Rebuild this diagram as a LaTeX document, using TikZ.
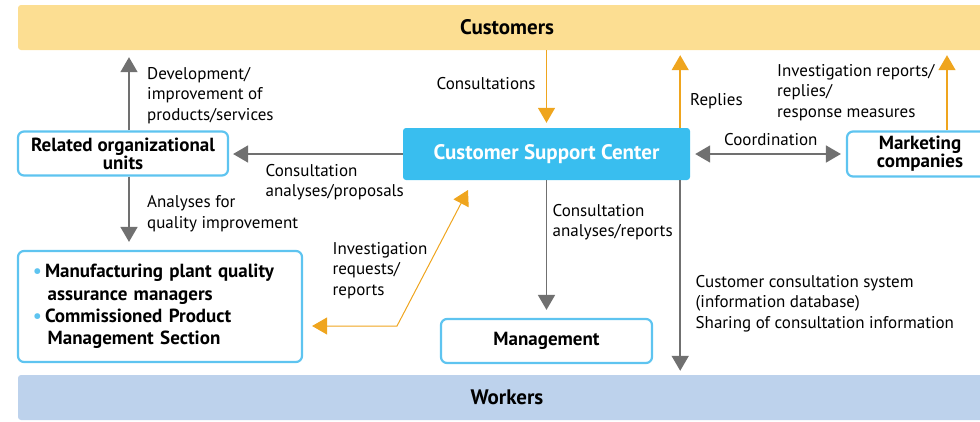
\documentclass[tikz,border=0pt]{standalone}
\usepackage{fontspec}
\setmainfont{PT Sans}
\usetikzlibrary{arrows.meta,positioning}
\definecolor{custband}{RGB}{252,222,146}
\definecolor{workband}{RGB}{189,210,236}
\definecolor{boxblue}{RGB}{94,196,240}
\definecolor{centerblue}{RGB}{57,190,239}
\definecolor{replyorange}{RGB}{239,165,30}
\definecolor{flowgray}{RGB}{112,112,112}
\tikzset{
  band/.style      = {rounded corners=3pt, inner sep=0pt, minimum width=978pt,
                      minimum height=45pt, font=\bfseries\fontsize{21}{22}\selectfont},
  unitbox/.style   = {draw=boxblue, line width=2.2pt, rounded corners=6pt, fill=white,
                      inner sep=0pt, align=center, font=\bfseries\fontsize{19}{18}\selectfont},
  centerbox/.style = {fill=centerblue, rounded corners=3pt, inner sep=0pt, text=white,
                      font=\bfseries\fontsize{21}{22}\selectfont},
  grayflow/.style  = {draw=flowgray, line width=1.7pt, -{Triangle[length=15pt,width=17pt]}},
  grayboth/.style  = {draw=flowgray, line width=1.7pt,
                      {Triangle[length=15pt,width=17pt]}-{Triangle[length=15pt,width=17pt]}},
  orangeflow/.style= {draw=replyorange, line width=1.5pt, -{Triangle[length=15pt,width=17pt]}},
  orangethin/.style= {draw=replyorange, line width=1pt,
                      {Triangle[length=15pt,width=17pt]}-{Triangle[length=15pt,width=17pt]}},
  annot/.style     = {anchor=base west, align=left, inner sep=0pt,
                      font=\fontsize{17}{20.5}\selectfont},
}
\newcommand{\bul}{\makebox[12pt][l]{\textcolor{boxblue}{\textbullet}}}

\begin{document}
\begin{tikzpicture}[x=1pt,y=-1pt]
  \path[use as bounding box, clip] (0,0) rectangle (980,421);

  % ---------------- bands ------------------------------------------------
  \node[band, fill=custband] (cust) at (507,27.5) {Customers};
  \node[band, fill=workband] (work) at (507,397.5) {Workers};

  % ---------------- boxes ------------------------------------------------
  \node[unitbox, minimum width=210pt, minimum height=44pt] (rel) at (123,153.5)
       {Related organizational\\units};
  \node[centerbox, minimum width=287pt, minimum height=52pt] (csc) at (546.5,154)
       {Customer Support Center};
  \node[unitbox, minimum width=146pt, minimum height=45pt] (mkt) at (920,154)
       {Marketing\\companies};
  \node[unitbox, minimum width=284pt, minimum height=111pt, text width=254pt, align=left,
        font=\bfseries\fontsize{19}{22.3}\selectfont] (mfg) at (160,306.5)
       {\bul Manufacturing plant quality\\\hspace*{14.7pt}assurance managers\\
        \bul Commissioned Product\\\hspace*{14.7pt}Management Section};
  \node[unitbox, minimum width=211pt, minimum height=44pt] (mgmt) at (546.5,341)
       {Management};

  % ---------------- connectors -------------------------------------------
  \coordinate (relup) at ([xshift=6pt]rel.north);
  \coordinate (reldown) at ([xshift=6pt]rel.south);
  \coordinate (replyup) at ([xshift=-10pt]csc.north east);
  \coordinate (sharedown) at ([xshift=-10pt]csc.south east);
  \coordinate (mktup) at ([xshift=27pt]mkt.north);
  \coordinate (invtop) at (468,190);
  \coordinate (invbend) at (397,326);

  \draw[grayflow, shorten >=7pt] (relup) -- (relup |- cust.south);
  \draw[grayflow, shorten >=8pt] (reldown) -- (reldown |- mfg.north);
  \draw[grayflow, shorten >=4pt] (csc.west) -- (csc.west -| rel.east);
  \draw[orangeflow, shorten >=5pt] (csc.north |- cust.south) -- (csc.north);
  \draw[orangeflow, shorten >=5pt] (replyup) -- (replyup |- cust.south);
  \draw[orangeflow, shorten >=5pt] (mktup) -- (mktup |- cust.south);
  \draw[grayboth, shorten <=5pt, shorten >=5pt] (csc.east) -- (mkt.west);
  \draw[grayflow, shorten >=8pt] (csc.south) -- (mgmt.north);
  \draw[grayflow, shorten >=4pt] (sharedown) -- (sharedown |- work.north);
  \draw[orangethin, shorten >=9pt] (invtop) -- (invbend) -- (invbend -| mfg.east);

  % ---------------- labels (placed at the baseline of the last line) -----
  \node[annot] (devlbl) at (147,120) {Development/\\improvement of\\products/services};
  \node[annot] (quallbl) at (147,228) {Analyses for\\quality improvement};
  \node[annot] (proplbl) at (265.5,196.5) {Consultation\\analyses/proposals};
  \node[annot] (conslbl) at (436.5,89) {Consultations};
  \node[annot] (replylbl) at (690,105.5) {Replies};
  \node[annot] (measlbl) at (777,117) {Investigation reports/\\replies/\\response measures};
  \node[annot] (coordlbl) at (724,145) {Coordination};
  \node[annot] (replbl) at (552.5,236.5) {Consultation\\analyses/reports};
  \node[annot] (reqlbl) at (332.5,295) {Investigation\\requests/\\reports};
  \node[annot] (syslbl) at (695.5,328)
       {Customer consultation system\\(information database)\\Sharing of consultation information};
\end{tikzpicture}
\end{document}
